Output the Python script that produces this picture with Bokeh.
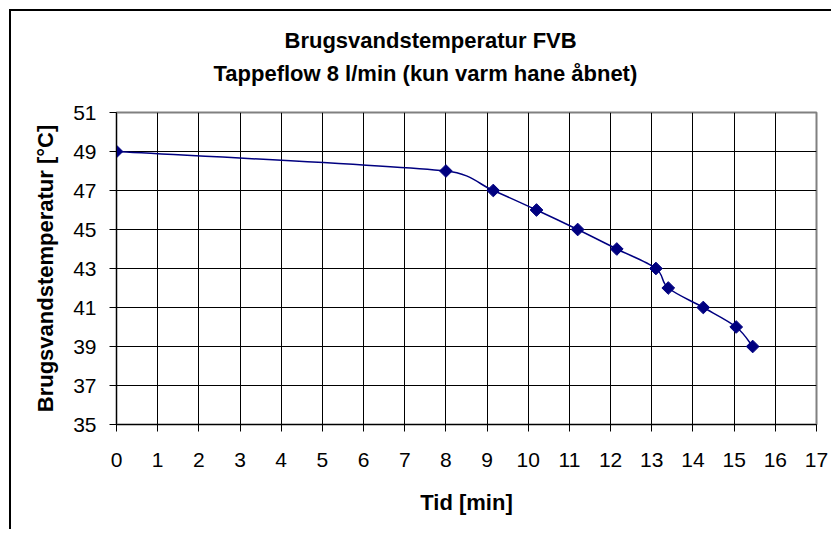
import numpy as np
from bokeh.plotting import figure
from bokeh.models import Title, FixedTicker
from bokeh.embed import file_html
from bokeh.resources import INLINE

# ---- data ----
time_min = [0, 8, 9.15, 10.2, 11.2, 12.15, 13.1, 13.4, 14.25, 15.05, 15.45]
temp_c = [49, 48, 47, 46, 45, 44, 43, 42, 41, 40, 39]
x_ticks = list(range(0, 18))
y_ticks = list(range(35, 52, 2))
title_1 = "Brugsvandstemperatur FVB"
title_2 = "Tappeflow 8 l/min (kun varm hane åbnet)"
x_label = "Tid [min]"
y_label = "Brugsvandstemperatur [°C]"

FONT = "Liberation Sans"
NAVY = "#000080"
X0, X1, Y0, Y1 = 0, 17, 35, 51
FW, FH = 700, 312

p = figure(
    title=None,
    x_range=(X0, X1), y_range=(Y0, Y1),
    frame_width=FW, frame_height=FH,
    min_border_left=105, min_border_top=101,
    min_border_right=15, min_border_bottom=105,
    output_backend="svg", toolbar_location=None,
    background_fill_color="white", border_fill_color="white",
)
p.styles = {"border-top": "2px solid black", "border-left": "2px solid black",
            "margin-left": "9px", "margin-top": "9px"}

p.outline_line_color = "#808080"
p.outline_line_width = 2

# titles (second line added first: closest to the frame)
p.add_layout(Title(text=title_2, align="left", offset=97, text_font=FONT,
                   text_font_size="22px", text_font_style="bold",
                   text_color="black", standoff=54), "above")
try:
    t1 = Title(text=title_1, align="left", offset=168, text_font=FONT,
               text_font_size="22px", text_font_style="bold",
               text_color="black", standoff=-43)
except Exception:
    t1 = Title(text=title_1, align="left", offset=168, text_font=FONT,
               text_font_size="22px", text_font_style="bold",
               text_color="black", standoff=0)
p.add_layout(t1, "above")

for ax in (p.xaxis[0], p.yaxis[0]):
    ax.major_tick_out = 7
    ax.major_tick_in = 0
    ax.minor_tick_line_color = None
    ax.axis_line_color = "black"
    ax.major_tick_line_color = "black"
    ax.major_label_text_font = FONT
    ax.major_label_text_font_size = "21px"
    ax.major_label_text_color = "black"
    ax.axis_label_text_font = FONT
    ax.axis_label_text_font_size = "22px"
    ax.axis_label_text_font_style = "bold"
    ax.axis_label_text_color = "black"

p.xaxis.ticker = FixedTicker(ticks=x_ticks)
p.yaxis.ticker = FixedTicker(ticks=y_ticks)
p.xaxis.axis_label = x_label
p.yaxis.axis_label = y_label
p.xaxis.major_label_standoff = 21
p.xaxis.axis_label_standoff = 20
p.yaxis.major_label_standoff = 13
p.yaxis.axis_label_standoff = 12

p.xgrid.ticker = FixedTicker(ticks=x_ticks)
p.ygrid.ticker = FixedTicker(ticks=y_ticks)
for g in (p.xgrid[0], p.ygrid[0]):
    g.grid_line_color = "black"
    g.grid_line_width = 1

# smoothed line: Bezier segments through the data points (spreadsheet-style
# smoothing, control distance limited to half of the segment, in pixel space)
sx = FW / (X1 - X0)
sy = FH / (Y1 - Y0)
x = np.asarray(time_min, dtype=float)
y = np.asarray(temp_c, dtype=float)
n = len(x)
qx = np.concatenate([[x[0]], x, [x[-1]]])
qy = np.concatenate([[y[0]], y, [y[-1]]])
seg = []
for i in range(n - 1):
    p0 = np.array([qx[i] * sx, qy[i] * sy])
    p1 = np.array([qx[i + 1] * sx, qy[i + 1] * sy])
    p2 = np.array([qx[i + 2] * sx, qy[i + 2] * sy])
    p3 = np.array([qx[i + 3] * sx, qy[i + 3] * sy])
    d12 = np.linalg.norm(p2 - p1)
    d02 = np.linalg.norm(p2 - p0)
    d13 = np.linalg.norm(p3 - p1)
    f0 = min(1 / 6, 0.5 * d12 / d02) if d02 > 0 else 0
    f1 = min(1 / 6, 0.5 * d12 / d13) if d13 > 0 else 0
    c0 = p1 + (p2 - p0) * f0
    c1 = p2 - (p3 - p1) * f1
    seg.append((p1[0] / sx, p1[1] / sy, p2[0] / sx, p2[1] / sy,
                c0[0] / sx, c0[1] / sy, c1[0] / sx, c1[1] / sy))
seg = np.array(seg)
p.bezier(x0=seg[:, 0], y0=seg[:, 1], x1=seg[:, 2], y1=seg[:, 3],
         cx0=seg[:, 4], cy0=seg[:, 5], cx1=seg[:, 6], cy1=seg[:, 7],
         line_color=NAVY, line_width=1.5)

p.scatter(time_min, temp_c, marker="square", angle=np.pi / 4, size=9,
          fill_color=NAVY, line_color=NAVY)

open("out.html", "w").write(file_html(p, INLINE))
